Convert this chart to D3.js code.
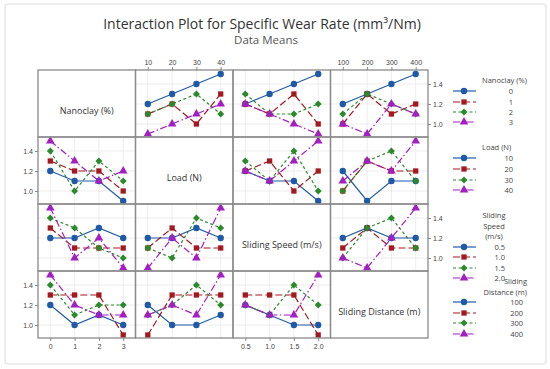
<!DOCTYPE html>
<html>
<head>
<meta charset="utf-8">
<script src="https://cdn.jsdelivr.net/npm/d3@7"></script>
<style>
  body { margin: 0; background: #fff; }
  svg { font-family: "Open Sans", "Noto Sans", sans-serif; }
</style>
</head>
<body>
<div id="chart"></div>
<script>
// factor names and levels
var factorNames = ["Nanoclay (%)", "Load (N)", "Sliding Speed (m/s)", "Sliding Distance (m)"];
var nanoclayLevels = [0, 1, 2, 3];
var loadLevels = [10, 20, 30, 40];
var speedLevels = [0.5, 1.0, 1.5, 2.0];
var distanceLevels = [100, 200, 300, 400];
var nanoclayTicks = ["0", "1", "2", "3"];
var loadTicks = ["10", "20", "30", "40"];
var speedTicks = ["0.5", "1.0", "1.5", "2.0"];
var distanceTicks = ["100", "200", "300", "400"];
var yTicks = [1.0, 1.2, 1.4];

// data means: one row per level of the trace factor, values along the x factor
var nanoclayByLoad     = [[1.2, 1.3, 1.4, 1.5], [1.1, 1.2, 1.0, 1.3], [1.1, 1.2, 1.3, 1.1], [0.9, 1.0, 1.1, 1.2]];
var nanoclayBySpeed    = [[1.2, 1.3, 1.4, 1.5], [1.2, 1.1, 1.3, 1.0], [1.3, 1.1, 1.1, 1.2], [1.2, 1.1, 1.0, 0.9]];
var nanoclayByDistance = [[1.2, 1.3, 1.4, 1.5], [1.0, 1.3, 1.1, 1.2], [1.1, 1.3, 1.2, 1.1], [1.0, 0.9, 1.2, 1.1]];

var loadByNanoclay = [[1.2, 1.1, 1.1, 0.9], [1.3, 1.2, 1.2, 1.0], [1.4, 1.0, 1.3, 1.1], [1.5, 1.3, 1.1, 1.2]];
var loadBySpeed    = [[1.2, 1.1, 1.1, 0.9], [1.2, 1.3, 1.0, 1.2], [1.3, 1.1, 1.4, 1.0], [1.2, 1.1, 1.3, 1.5]];
var loadByDistance = [[1.2, 0.9, 1.1, 1.1], [1.0, 1.3, 1.2, 1.2], [1.0, 1.3, 1.4, 1.1], [1.1, 1.3, 1.2, 1.5]];

var speedByNanoclay = [[1.2, 1.2, 1.3, 1.2], [1.3, 1.1, 1.1, 1.1], [1.4, 1.3, 1.1, 1.0], [1.5, 1.0, 1.2, 0.9]];
var speedByLoad     = [[1.2, 1.2, 1.3, 1.2], [1.1, 1.3, 1.1, 1.1], [1.1, 1.0, 1.4, 1.3], [0.9, 1.2, 1.0, 1.5]];
var speedByDistance = [[1.2, 1.3, 1.2, 1.2], [1.1, 1.3, 1.1, 1.1], [1.0, 1.3, 1.4, 1.1], [1.0, 0.9, 1.2, 1.5]];

var distanceByNanoclay = [[1.2, 1.0, 1.1, 1.0], [1.3, 1.3, 1.3, 0.9], [1.4, 1.1, 1.2, 1.2], [1.5, 1.2, 1.1, 1.1]];
var distanceByLoad     = [[1.2, 1.0, 1.0, 1.1], [0.9, 1.3, 1.3, 1.3], [1.1, 1.2, 1.4, 1.2], [1.1, 1.2, 1.1, 1.5]];
var distanceBySpeed    = [[1.2, 1.1, 1.0, 1.0], [1.3, 1.3, 1.3, 0.9], [1.2, 1.1, 1.4, 1.2], [1.2, 1.1, 1.1, 1.5]];

function init() {
    var w = 550, h = 369;
    var levels = [nanoclayLevels, loadLevels, speedLevels, distanceLevels];
    var tickLabels = [nanoclayTicks, loadTicks, speedTicks, distanceTicks];
    // means[row][col]
    var means = [
        [null, nanoclayByLoad, nanoclayBySpeed, nanoclayByDistance],
        [loadByNanoclay, null, loadBySpeed, loadByDistance],
        [speedByNanoclay, speedByLoad, null, speedByDistance],
        [distanceByNanoclay, distanceByLoad, distanceBySpeed, null]
    ];

    var colors = ["#1f5aa8", "#a3191f", "#2a8a2a", "#a31fc2"];
    var dashes = [null, "7,3", "3,2.5", "7,2.5,1.5,2.5"];
    var shapes = [d3.symbolCircle, d3.symbolSquare, d3.symbolSquare, d3.symbolTriangle];
    var sizes = [32, 28, 24, 32];
    var rotate = [0, 0, 45, 0];

    var colEdges = [38, 135.5, 233, 330.5, 428];
    var rowEdges = [70, 137, 204, 271, 338];
    var pad = 12.3;

    var svg = d3.select("#chart").append("svg")
        .attr("width", w).attr("height", h);

    // frame around the whole figure
    svg.append("rect")
        .attr("x", 5).attr("y", 4).attr("width", 541).attr("height", 360)
        .attr("rx", 3)
        .attr("fill", "#fff").attr("stroke", "#dcdcdc");

    svg.append("text")
        .attr("x", 262).attr("y", 29)
        .attr("text-anchor", "middle")
        .attr("fill", "#333")
        .style("font-size", "14px")
        .text("Interaction Plot for Specific Wear Rate (mm³/Nm)");

    svg.append("text")
        .attr("x", 266).attr("y", 44)
        .attr("text-anchor", "middle")
        .attr("fill", "#555")
        .style("font-size", "11.5px")
        .text("Data Means");

    var xScales = levels.map(function(lv, c) {
        return d3.scaleLinear()
            .domain(d3.extent(lv))
            .range([colEdges[c] + pad, colEdges[c + 1] - pad]);
    });
    var yScales = rowEdges.slice(0, 4).map(function(top, r) {
        return d3.scaleLinear()
            .domain([0.87, 1.54])
            .range([rowEdges[r + 1], top]);
    });

    function marker(k) {
        return d3.symbol().type(shapes[k]).size(sizes[k]);
    }

    for (var r = 0; r < 4; r++) {
        for (var c = 0; c < 4; c++) {
            var x0 = colEdges[c], x1 = colEdges[c + 1];
            var y0 = rowEdges[r], y1 = rowEdges[r + 1];
            var g = svg.append("g");

            if (r === c) {
                g.append("text")
                    .attr("x", (x0 + x1) / 2)
                    .attr("y", (y0 + y1) / 2 + 10)
                    .attr("text-anchor", "middle")
                    .attr("fill", "#333")
                    .style("font-size", "9px")
                    .text(factorNames[r]);
                continue;
            }

            var xs = xScales[c], ys = yScales[r];

            // gridlines
            g.selectAll(".vg").data(levels[c]).enter().append("line")
                .attr("x1", function(d) { return xs(d); })
                .attr("x2", function(d) { return xs(d); })
                .attr("y1", y0).attr("y2", y1)
                .attr("stroke", "#e8e8e8").attr("stroke-width", 0.8);
            g.selectAll(".hg").data(yTicks).enter().append("line")
                .attr("x1", x0).attr("x2", x1)
                .attr("y1", function(d) { return ys(d); })
                .attr("y2", function(d) { return ys(d); })
                .attr("stroke", "#e8e8e8").attr("stroke-width", 0.8);

            var line = d3.line()
                .x(function(d, i) { return xs(levels[c][i]); })
                .y(function(d) { return ys(d); });

            means[r][c].forEach(function(vals, k) {
                g.append("path")
                    .datum(vals)
                    .attr("d", line)
                    .attr("fill", "none")
                    .attr("stroke", colors[k])
                    .attr("stroke-width", 1.2)
                    .attr("stroke-dasharray", dashes[k]);
            });
            means[r][c].forEach(function(vals, k) {
                g.selectAll(".m" + k).data(vals).enter().append("path")
                    .attr("d", marker(k))
                    .attr("transform", function(d, i) {
                        return "translate(" + xs(levels[c][i]) + "," + ys(d) + ") rotate(" + rotate[k] + ")";
                    })
                    .attr("fill", colors[k]);
            });
        }
    }

    // panel borders
    for (var r2 = 0; r2 < 4; r2++) {
        for (var c2 = 0; c2 < 4; c2++) {
            svg.append("rect")
                .attr("x", colEdges[c2]).attr("y", rowEdges[r2])
                .attr("width", colEdges[c2 + 1] - colEdges[c2])
                .attr("height", rowEdges[r2 + 1] - rowEdges[r2])
                .attr("fill", "none")
                .attr("stroke", "#8a8a8a").attr("stroke-width", 1.3);
        }
    }

    // axes
    function styleAxis(sel) {
        sel.select(".domain").remove();
        sel.selectAll(".tick line").attr("stroke", "#888");
        sel.selectAll(".tick text").attr("fill", "#444").style("font-size", "7px");
    }
    [1, 3].forEach(function(c) {
        var ax = d3.axisTop(xScales[c]).tickValues(levels[c])
            .tickFormat(function(d, i) { return tickLabels[c][i]; })
            .tickSize(3).tickPadding(2);
        svg.append("g").attr("transform", "translate(0," + rowEdges[0] + ")")
            .call(ax).call(styleAxis);
    });
    [0, 2].forEach(function(c) {
        var ax = d3.axisBottom(xScales[c]).tickValues(levels[c])
            .tickFormat(function(d, i) { return tickLabels[c][i]; })
            .tickSize(3).tickPadding(3);
        svg.append("g").attr("transform", "translate(0," + rowEdges[4] + ")")
            .call(ax).call(styleAxis);
    });
    [1, 3].forEach(function(r) {
        var ax = d3.axisLeft(yScales[r]).tickValues(yTicks)
            .tickFormat(d3.format(".1f")).tickSize(3).tickPadding(2);
        svg.append("g").attr("transform", "translate(" + colEdges[0] + ",0)")
            .call(ax).call(styleAxis);
    });
    [0, 2].forEach(function(r) {
        var ax = d3.axisRight(yScales[r]).tickValues(yTicks)
            .tickFormat(d3.format(".1f")).tickSize(3).tickPadding(2);
        svg.append("g").attr("transform", "translate(" + colEdges[4] + ",0)")
            .call(ax).call(styleAxis);
    });

    // legends
    var legends = [
        { title: ["Nanoclay (%)"], ty: [80], tx: 482, tAnchor: "start", vy: [91, 102, 112, 122], vx: 513 },
        { title: ["Load (N)"], ty: [147], tx: 482, tAnchor: "start", vy: [158, 169, 180, 190], vx: 513 },
        { title: ["Sliding", "Speed", "(m/s)"], ty: [215, 226, 236], tx: 494, tAnchor: "middle", vy: [247, 257, 268, 278], vx: 505 },
        { title: ["Sliding", "Distance (m)"], ty: [281, 292], tx: 527, tAnchor: "end", vy: [302, 313, 323, 334], vx: 523 }
    ];
    legends.forEach(function(L, r) {
        var lg = svg.append("g");
        L.title.forEach(function(t, i) {
            lg.append("text")
                .attr("x", L.tx).attr("y", L.ty[i]).attr("dy", "0.35em")
                .attr("text-anchor", L.tAnchor)
                .attr("fill", "#444").style("font-size", "7.5px")
                .text(t);
        });
        tickLabels[r].forEach(function(lbl, k) {
            var y = L.vy[k];
            lg.append("line")
                .attr("x1", 453).attr("x2", 476).attr("y1", y).attr("y2", y)
                .attr("stroke", colors[k]).attr("stroke-width", 1.2)
                .attr("stroke-dasharray", dashes[k]);
            lg.append("path")
                .attr("d", marker(k))
                .attr("transform", "translate(464," + y + ") rotate(" + rotate[k] + ")")
                .attr("fill", colors[k]);
            lg.append("text")
                .attr("x", L.vx).attr("y", y).attr("dy", "0.35em")
                .attr("text-anchor", "end")
                .attr("fill", "#444").style("font-size", "7.5px")
                .text(lbl);
        });
    });
}

window.onload = init;
</script>
</body>
</html>
